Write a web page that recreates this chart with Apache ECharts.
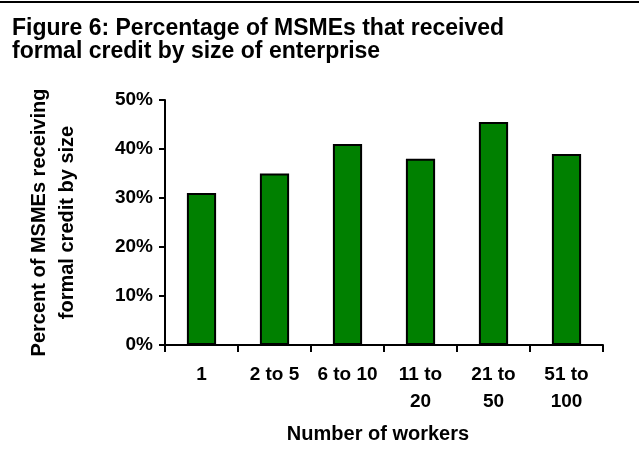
<!DOCTYPE html>
<html>
<head>
<meta charset="utf-8">
<script src="https://cdn.jsdelivr.net/npm/echarts@6/dist/echarts.min.js"></script>
<style>
  html, body { margin: 0; padding: 0; background: #fff; }
  #chart { width: 639px; height: 463px; }
</style>
</head>
<body>
<div id="chart"></div>
<script>
// Enterprise size groups (number of workers)
var categories = ['1', '2 to 5', '6 to 10', '11 to 20', '21 to 50', '51 to 100'];
// Share of MSMEs that received formal credit, percent
var creditShare = [31, 35, 41, 38, 45.5, 39];
// Value axis ticks
var yTicks = [0, 10, 20, 30, 40, 50];

var FONT = '"Liberation Sans", Arial, Helvetica, sans-serif';

var chart = echarts.init(document.getElementById('chart'), null, { renderer: 'canvas' });

chart.setOption({
  animation: false,
  backgroundColor: '#ffffff',
  title: {
    text: 'Figure 6: Percentage of MSMEs that received\nformal credit by size of enterprise',
    left: 12,
    top: 17,
    padding: 0,
    textStyle: {
      fontFamily: FONT,
      fontWeight: 'bold',
      fontSize: 23,
      lineHeight: 23,
      color: '#000'
    }
  },
  graphic: [{
    type: 'line',
    shape: { x1: 0, y1: 2, x2: 639, y2: 2 },
    style: { stroke: '#000', lineWidth: 2 }
  }],
  grid: { left: 165, right: 36, top: 100, bottom: 118, containLabel: false },
  xAxis: {
    type: 'category',
    data: categories,
    boundaryGap: true,
    name: 'Number of workers',
    nameLocation: 'middle',
    nameGap: 79,
    nameTextStyle: { fontFamily: FONT, fontWeight: 'bold', fontSize: 20, color: '#000', padding: [0, 12, 0, 0] },
    axisLine: { lineStyle: { color: '#000', width: 2 } },
    axisTick: { show: true, length: 7, alignWithLabel: false, lineStyle: { color: '#000', width: 2 } },
    axisLabel: {
      interval: 0,
      hideOverlap: false,
      margin: 16,
      fontFamily: FONT,
      fontWeight: 'bold',
      fontSize: 19,
      lineHeight: 27,
      color: '#000',
      formatter: function (v) {
        return v.length > 7 ? v.replace(' to ', ' to\n') : v;
      }
    }
  },
  yAxis: {
    type: 'value',
    min: yTicks[0],
    max: yTicks[yTicks.length - 1],
    interval: yTicks[1] - yTicks[0],
    name: 'Percent of MSMEs receiving\nformal credit by size',
    nameLocation: 'middle',
    nameRotate: 90,
    nameGap: 84,
    nameTextStyle: { fontFamily: FONT, fontWeight: 'bold', fontSize: 20, lineHeight: 28, color: '#000', align: 'center' },
    splitLine: { show: false },
    axisLine: { show: true, lineStyle: { color: '#000', width: 2 } },
    axisTick: { show: true, length: 6, lineStyle: { color: '#000', width: 2 } },
    axisLabel: {
      margin: 12,
      fontFamily: FONT,
      fontWeight: 'bold',
      fontSize: 19,
      color: '#000',
      formatter: '{value}%'
    }
  },
  series: [{
    type: 'bar',
    data: creditShare,
    barWidth: '40%',
    itemStyle: { color: '#008000', borderColor: '#000', borderWidth: 2 }
  }]
});
</script>
</body>
</html>
